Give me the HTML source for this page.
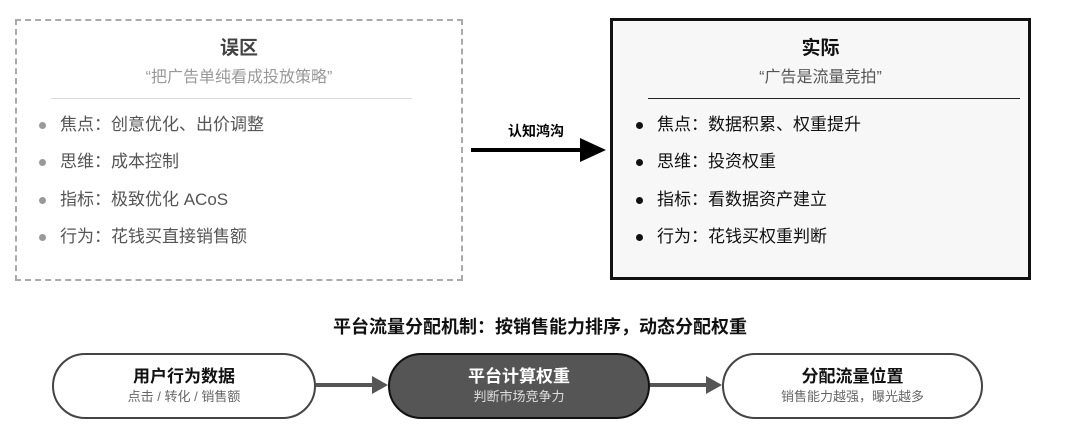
<!DOCTYPE html>
<html><head><meta charset="utf-8"><style>
body{margin:0;width:1080px;height:434px;background:#fff;position:relative;overflow:hidden;font-family:"Liberation Sans","Noto Sans CJK SC",sans-serif}
.a{position:absolute}
.t{position:absolute;white-space:nowrap}
.c{text-align:center}
.li{position:absolute;font-size:17px;white-space:nowrap;line-height:20px}
.dot{position:absolute;width:7px;height:7px;border-radius:50%}
.pill{position:absolute;top:353px;height:66px;border:2px solid #444;border-radius:34px;text-align:center;box-sizing:border-box}
.pill b{display:block;font-size:17px;margin-top:11px;line-height:22px}
.pill span{display:block;font-size:13px;line-height:18px}
</style></head><body>
<div class="a" style="left:15px;top:19px;width:444px;height:258px;border:2px dashed #aaa"></div>
<div class="t c" style="left:15px;width:448px;top:33px;font-size:19px;font-weight:bold;color:#444">误区</div>
<div class="t c" style="left:15px;width:448px;top:63px;font-size:16px;color:#999">“把广告单纯看成投放策略”</div>
<div class="a" style="left:51px;top:98px;width:361px;height:1px;background:#ddd"></div>
<div class="dot" style="left:39px;top:122px;background:#999"></div><div class="li" style="left:60px;top:115px;color:#555">焦点：创意优化、出价调整</div>
<div class="dot" style="left:39px;top:159px;background:#999"></div><div class="li" style="left:60px;top:152px;color:#555">思维：成本控制</div>
<div class="dot" style="left:39px;top:197px;background:#999"></div><div class="li" style="left:60px;top:190px;color:#555">指标：极致优化 ACoS</div>
<div class="dot" style="left:39px;top:234px;background:#999"></div><div class="li" style="left:60px;top:227px;color:#555">行为：花钱买直接销售额</div>

<div class="t c" style="left:480px;width:112px;top:121px;font-size:14px;font-weight:bold">认知鸿沟</div>
<div class="a" style="left:471px;top:148px;width:112px;height:4px;background:#000"></div>
<svg class="a" style="left:580px;top:138px" width="26" height="24"><polygon points="0,0 26,12 0,24" fill="#000"/></svg>

<div class="a" style="left:610px;top:18px;width:415px;height:256px;border:3px solid #111;background:#f7f7f7"></div>
<div class="t c" style="left:610px;width:421px;top:33px;font-size:19px;font-weight:bold;color:#111">实际</div>
<div class="t c" style="left:610px;width:421px;top:63px;font-size:16px;color:#555">“广告是流量竞拍”</div>
<div class="a" style="left:648px;top:98px;width:372px;height:1px;background:#222"></div>
<div class="dot" style="left:636px;top:122px;background:#111"></div><div class="li" style="left:657px;top:115px;color:#111">焦点：数据积累、权重提升</div>
<div class="dot" style="left:636px;top:159px;background:#111"></div><div class="li" style="left:657px;top:152px;color:#111">思维：投资权重</div>
<div class="dot" style="left:636px;top:197px;background:#111"></div><div class="li" style="left:657px;top:190px;color:#111">指标：看数据资产建立</div>
<div class="dot" style="left:636px;top:234px;background:#111"></div><div class="li" style="left:657px;top:227px;color:#111">行为：花钱买权重判断</div>

<div class="t c" style="left:0;width:1080px;top:313px;font-size:18px;font-weight:bold;color:#111">平台流量分配机制：按销售能力排序，动态分配权重</div>

<div class="pill" style="left:52px;width:264px;background:#fff"><b style="color:#111">用户行为数据</b><span style="color:#666">点击 / 转化 / 销售额</span></div>
<div class="a" style="left:316px;top:383px;width:60px;height:4px;background:#555"></div>
<svg class="a" style="left:372px;top:376px" width="16" height="18"><polygon points="0,0 16,9 0,18" fill="#555"/></svg>
<div class="pill" style="left:388px;width:262px;background:#555;border-color:#111"><b style="color:#fff">平台计算权重</b><span style="color:#ddd">判断市场竞争力</span></div>
<div class="a" style="left:650px;top:383px;width:58px;height:4px;background:#555"></div>
<svg class="a" style="left:706px;top:376px" width="16" height="18"><polygon points="0,0 16,9 0,18" fill="#555"/></svg>
<div class="pill" style="left:722px;width:261px;background:#fff"><b style="color:#111">分配流量位置</b><span style="color:#666">销售能力越强，曝光越多</span></div>
</body></html>
